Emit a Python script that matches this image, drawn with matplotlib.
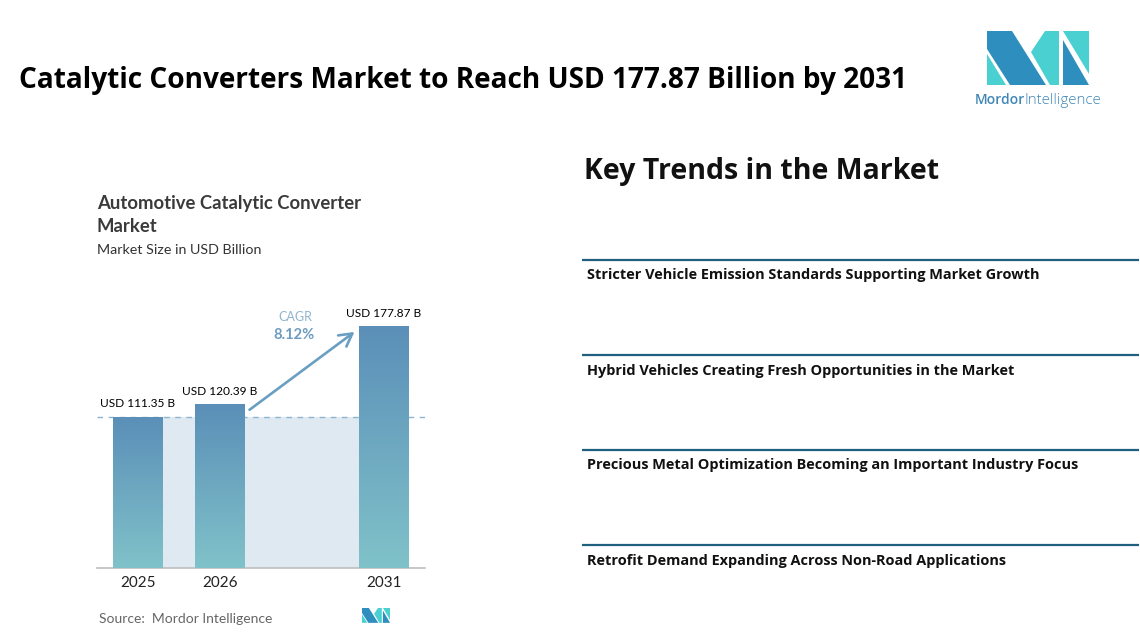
import numpy as np
import matplotlib
matplotlib.use("Agg")
import matplotlib.pyplot as plt
from matplotlib.colors import LinearSegmentedColormap
from matplotlib.patches import Polygon

years = ["2025", "2026", "2031"]
year_pos = [0, 1, 3]
market_size = [111.35, 120.39, 177.87]
value_labels = ["USD 111.35 B", "USD 120.39 B", "USD 177.87 B"]
cagr_label = "CAGR"
cagr_value = "8.12%"
trends = [
    "Stricter Vehicle Emission Standards Supporting Market Growth",
    "Hybrid Vehicles Creating Fresh Opportunities in the Market",
    "Precious Metal Optimization Becoming an Important Industry Focus",
    "Retrofit Demand Expanding Across Non-Road Applications",
]

W, H = 1140, 639
fig = plt.figure(figsize=(W / 100, H / 100), dpi=100, facecolor="white")

# page layer in pixels, y going down like the picture
page = fig.add_axes([0, 0, 1, 1])
page.set_xlim(0, W)
page.set_ylim(H, 0)
page.axis("off")

page.text(19, 80.5, "Catalytic Converters Market to Reach USD 177.87 Billion by 2031",
          family="Open Sans", weight="bold", fontsize=20.15, color="black", va="center")
page.text(584, 172, "Key Trends in the Market",
          family="Open Sans", weight="bold", fontsize=20.5, color="#111111", va="center")

page.text(97, 204, "Automotive Catalytic Converter", family="Lato", weight="bold",
          fontsize=13.35, color="#3a3a3a", va="center")
page.text(97, 227, "Market", family="Lato", weight="bold", fontsize=13.35, color="#3a3a3a", va="center")
page.text(97, 250, "Market Size in USD Billion", family="Lato", fontsize=10.3, color="#333333", va="center")
page.text(99, 619, "Source:  Mordor Intelligence", family="Lato", fontsize=10, color="#666666", va="center")

for i, t in enumerate(trends):
    line_y = 260 + i * 95
    page.plot([582, 1139], [line_y, line_y], color="#1f6080", lw=1.6, solid_capstyle="butt")
    page.text(587, line_y + 15.5, t, family="Open Sans", weight="bold", fontsize=10.48,
              color="#111111", va="center")


def draw_logo(x0, y0, s):
    dark, teal = "#2e8fbf", "#4bd0d2"
    shapes = [
        ([(0, 0), (25, 0), (59, 54), (23, 54), (0, 18)], dark),
        ([(0, 23), (19, 54), (0, 54)], teal),
        ([(44, 21), (58, 0), (72, 0), (72, 54), (63, 54)], teal),
        ([(76, 0), (102, 0), (102, 43)], teal),
        ([(76, 9), (102, 54), (76, 54)], dark),
    ]
    for pts, c in shapes:
        page.add_patch(Polygon([(x0 + px * s, y0 + py * s) for px, py in pts], closed=True,
                               facecolor=c, edgecolor="none"))


draw_logo(987, 31, 1.0)
draw_logo(362, 608, 0.275)
page.text(975, 100, "Mordor", family="Open Sans", weight="semibold", fontsize=10, color="#3f86b5", va="center")
page.text(1025, 100, "Intelligence", family="Open Sans", weight="light", fontsize=10.8, color="#3f86b5", va="center")

# chart layer: baseline at y=567.5, 82 px per position, 1.355 px per USD B
left, right, bottom, top = 97, 425, 567.5, 295
ax = fig.add_axes([left / W, 1 - bottom / H, (right - left) / W, (bottom - top) / H])
ax.patch.set_alpha(0)

bar_w = 0.6
cmap = LinearSegmentedColormap.from_list("bars", ["#80c2c9", "#5b8fb8"])
grad = np.linspace(1, 0, 256).reshape(-1, 1)

ax.fill_between([year_pos[0], year_pos[-1]], 0, market_size[0], color="#dfe9f2", lw=0, zorder=1)
ax.axhline(market_size[0], color="#8db4cf", lw=1, dashes=(4, 4), zorder=2)

for x, v, lab in zip(year_pos, market_size, value_labels):
    ax.imshow(grad, cmap=cmap, extent=(x - bar_w / 2, x + bar_w / 2, 0, v), aspect="auto", zorder=3)
    ax.text(x, v + 9.5, lab, family="Lato", fontsize=8.6, color="black",
            ha="center", va="center", zorder=5)

ax.set_xlim(-0.5, 3.5)
ax.set_ylim(0, (bottom - top) / 1.355)

ax.annotate("", xy=(year_pos[2] - 0.36, market_size[2] - 4), xytext=(year_pos[1] + 0.36, market_size[1] - 4),
            arrowprops=dict(arrowstyle="->,head_width=0.5,head_length=0.9", color="#6a9ec2", lw=1.9,
                            shrinkA=0, shrinkB=0), zorder=4)
ax.text(1.92, 185, cagr_label, family="Lato", fontsize=9, color="#8fb4cf", ha="center", va="center")
ax.text(1.9, 171.5, cagr_value, family="Lato", weight="bold", fontsize=10.6, color="#6d9cc0", ha="center", va="center")

for s in ["top", "left", "right"]:
    ax.spines[s].set_visible(False)
ax.spines["bottom"].set_color("#bdbdbd")
ax.spines["bottom"].set_linewidth(1.2)
ax.set_yticks([])
ax.set_xticks(year_pos)
ax.set_xticklabels(years, family="Lato", fontsize=11, color="#222222")
ax.tick_params(axis="x", length=0, pad=6)

fig.savefig("out.png", dpi=100)
